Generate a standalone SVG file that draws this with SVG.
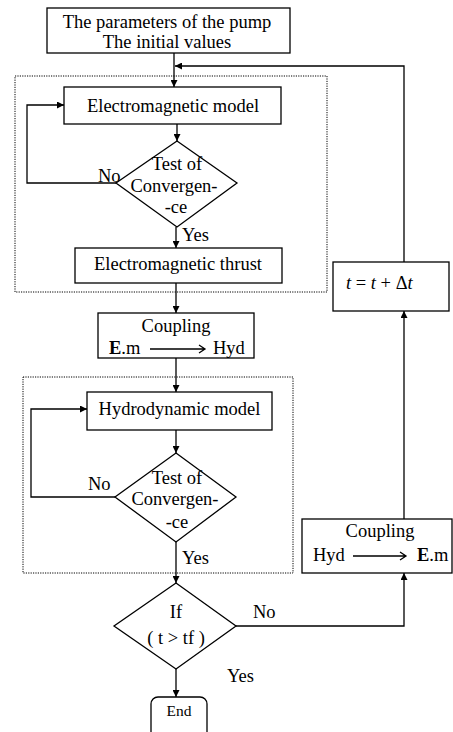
<svg xmlns="http://www.w3.org/2000/svg" width="453" height="732" viewBox="0 0 453 732" font-family="'Liberation Serif', 'Times New Roman', serif">
<style>
.box{fill:#fff;stroke:#000;stroke-width:1.3}
.dot{fill:none;stroke:#000;stroke-width:1;stroke-dasharray:1.2 1.2}
.ln{fill:none;stroke:#000;stroke-width:1.3}
text{font-family:'Liberation Serif','Times New Roman',serif;font-size:18.5px;fill:#000}
.c{text-anchor:middle}
.sm{font-size:15.5px}
.b{font-weight:bold}
.i{font-style:italic}
</style>
<defs>
<marker id="ah" viewBox="0 0 10 10" refX="10" refY="5" markerWidth="9" markerHeight="7" markerUnits="userSpaceOnUse" orient="auto">
<path d="M0,0 L10,5 L0,10 z" fill="#000"/>
</marker>
</defs>
<rect class="dot" x="15" y="76" width="312" height="216"/>
<rect class="dot" x="23" y="377" width="270" height="196"/>
<g id="connectors">
<path class="ln" d="M174,53 V87" marker-end="url(#ah)"/>
<path class="ln" d="M404,262 V66 H175" marker-end="url(#ah)"/>
<path class="ln" d="M177,124 V141" marker-end="url(#ah)"/>
<path class="ln" d="M116,183 H27 V105 H64" marker-end="url(#ah)"/>
<path class="ln" d="M176,227 V248" marker-end="url(#ah)"/>
<path class="ln" d="M176,283 V313" marker-end="url(#ah)"/>
<path class="ln" d="M176,358 V392" marker-end="url(#ah)"/>
<path class="ln" d="M176,430 V453" marker-end="url(#ah)"/>
<path class="ln" d="M115,497 H31 V409 H87" marker-end="url(#ah)"/>
<path class="ln" d="M176,542 V583" marker-end="url(#ah)"/>
<path class="ln" d="M236,626 H404 V573" marker-end="url(#ah)"/>
<path class="ln" d="M404,519 V311" marker-end="url(#ah)"/>
<path class="ln" d="M176,669 V697" marker-end="url(#ah)"/>
<text x="98" y="182">No</text>
<text x="182" y="241">Yes</text>
<text x="88" y="490">No</text>
<text x="182" y="564">Yes</text>
<text x="253" y="618">No</text>
<text x="227" y="682">Yes</text>
</g>
<g id="start">
<rect class="box" x="47" y="8" width="243" height="45"/>
<text class="c" x="167" y="28">The parameters of the pump</text>
<text class="c" x="167" y="48">The initial values</text>
</g>
<g id="em-model">
<rect class="box" x="64" y="87" width="217" height="37"/>
<text class="c" x="173" y="112">Electromagnetic model</text>
</g>
<g id="em-test">
<polygon class="box" points="177,141 237,183 177,227 116,183"/>
<text class="c" x="177" y="170">Test of</text>
<text class="c" x="174" y="192">Convergen-</text>
<text class="c" x="176" y="213">-ce</text>
</g>
<g id="em-thrust">
<rect class="box" x="75" y="248" width="207" height="35"/>
<text class="c" x="178" y="270">Electromagnetic thrust</text>
</g>
<g id="coupling1">
<rect class="box" x="98" y="313" width="156" height="45"/>
<text class="c" x="176" y="332">Coupling</text>
<text x="109" y="354"><tspan class="b">E</tspan>.m</text>
<path class="ln" d="M150,349 H205 M199,345 L205,349 L199,353" stroke-width="1"/>
<text x="213" y="354">Hyd</text>
</g>
<g id="hydro-model">
<rect class="box" x="87" y="392" width="185" height="38"/>
<text class="c" x="179.5" y="415">Hydrodynamic model</text>
</g>
<g id="hydro-test">
<polygon class="box" points="176,453 236,497 176,542 115,497"/>
<text class="c" x="177" y="484">Test of</text>
<text class="c" x="175" y="505">Convergen-</text>
<text class="c" x="177" y="528">-ce</text>
</g>
<g id="if">
<polygon class="box" points="176,583 236,626 176,669 114,626"/>
<text class="c" x="176" y="618">If</text>
<text class="c" x="176" y="644">( t &gt; tf )</text>
</g>
<g id="end">
<rect class="box" x="151" y="697" width="56" height="44" rx="7"/>
<text class="c sm" x="179" y="716">End</text>
</g>
<g id="coupling2">
<rect class="box" x="302" y="519" width="150" height="54"/>
<text class="c" x="380" y="537">Coupling</text>
<text x="313" y="561">Hyd</text>
<path class="ln" d="M353,556 H406 M400,552 L406,556 L400,560" stroke-width="1"/>
<text x="417" y="561"><tspan class="b">E</tspan>.m</text>
</g>
<g id="time-step">
<rect class="box" x="333" y="262" width="116" height="49"/>
<text x="346" y="289"><tspan class="i">t</tspan> = <tspan class="i">t</tspan> + Δ<tspan class="i">t</tspan></text>
</g>
</svg>
